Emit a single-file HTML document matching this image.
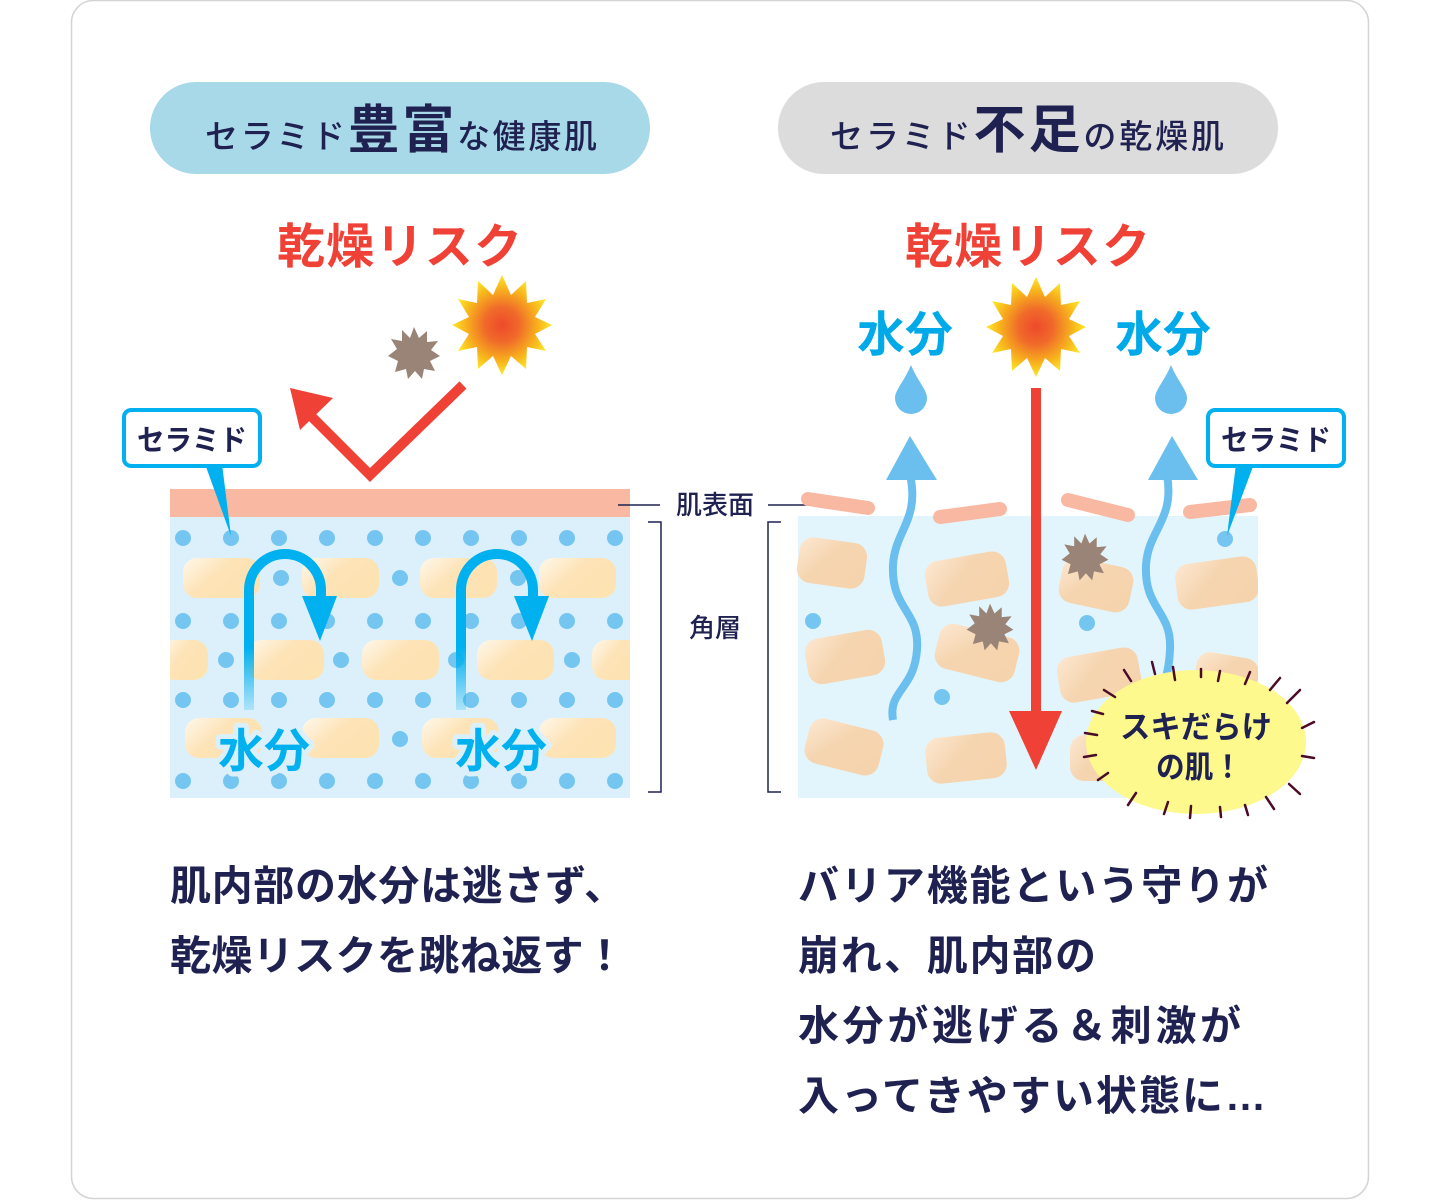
<!DOCTYPE html>
<html><head><meta charset="utf-8"><style>
body{margin:0;background:#fff;}
svg{display:block;font-family:"Liberation Sans","Noto Sans CJK JP",sans-serif;}
</style></head><body>
<svg width="1440" height="1200" viewBox="0 0 1440 1200" xmlns="http://www.w3.org/2000/svg">
<defs>
<linearGradient id="cg" x1="0" y1="0" x2="1" y2="0.6"><stop offset="0" stop-color="#fff8ec"/><stop offset="0.5" stop-color="#fde3b6"/><stop offset="1" stop-color="#fde3b2"/></linearGradient>
<linearGradient id="cg2" x1="0" y1="0" x2="1" y2="0.6"><stop offset="0" stop-color="#fde8d2"/><stop offset="0.5" stop-color="#f5d5b0"/><stop offset="1" stop-color="#f5d3ad"/></linearGradient>
<radialGradient id="sun"><stop offset="0" stop-color="#ee4a2b"/><stop offset="0.35" stop-color="#f06a2a"/><stop offset="0.75" stop-color="#f8b81c"/><stop offset="1" stop-color="#fde92b"/></radialGradient>
<linearGradient id="fade" x1="0" y1="1" x2="0" y2="0"><stop offset="0" stop-color="#00b0ef" stop-opacity="0.2"/><stop offset="0.4" stop-color="#00b0ef"/></linearGradient>
</defs>
<rect x="71.5" y="0.5" width="1297" height="1198" rx="22" fill="#fff" stroke="#d4d4d4" stroke-width="1.5"/>

<rect x="150" y="82" width="500" height="92" rx="46" fill="#a8d9e9"/>
<text x="205" y="148" textLength="392" lengthAdjust="spacing" fill="#1f2250" font-size="33" font-weight="500">セラミド<tspan font-size="52" font-weight="700">豊富</tspan>な健康肌</text>
<rect x="778" y="82" width="500" height="92" rx="46" fill="#dcdcdc"/>
<text x="830" y="148" textLength="394" lengthAdjust="spacing" fill="#1f2250" font-size="33" font-weight="500">セラミド<tspan font-size="52" font-weight="700">不足</tspan>の乾燥肌</text>

<text x="277" y="263" textLength="245" lengthAdjust="spacing" fill="#ef4136" font-size="48" font-weight="700">乾燥リスク</text>
<text x="905" y="263" textLength="245" lengthAdjust="spacing" fill="#ef4136" font-size="48" font-weight="700">乾燥リスク</text>

<polygon fill="url(#sun)" transform="translate(502,325)" points="0,-50 9,-30 24,-44 25,-22 44,-26 33,-8 50,0 33,9 44,26 25,22 24,44 9,31 0,50 -9,31 -24,44 -25,22 -44,26 -33,9 -50,0 -33,-8 -44,-26 -25,-22 -24,-44 -9,-30"/>
<polygon fill="#9a8377" transform="translate(414,353)" points="0,-26 5,-15 13,-22 13,-11 24,-12 17,-3 26,3 16,8 21,18 10,16 8,26 1,18 -6,26 -8,16 -19,19 -16,8 -26,3 -17,-4 -23,-14 -12,-12 -12,-23 -4,-15"/>
<polyline points="463,385 370,475 305,410" fill="none" stroke="#ef4136" stroke-width="10"/>
<polygon points="290,388 333,398 300,430" fill="#ef4136"/>

<rect x="170" y="489" width="460" height="28" fill="#f9b8a2"/>
<rect x="170" y="517" width="460" height="281" fill="#dbf0fb"/>
<g fill="url(#cg)">
<rect x="183" y="558" width="77" height="40" rx="14"/><rect x="302" y="558" width="77" height="40" rx="14"/><rect x="420" y="558" width="77" height="40" rx="14"/><rect x="539" y="558" width="77" height="40" rx="14"/>
<rect x="160" y="640" width="48" height="40" rx="14"/><rect x="247" y="640" width="77" height="40" rx="14"/><rect x="362" y="640" width="77" height="40" rx="14"/><rect x="477" y="640" width="77" height="40" rx="14"/><rect x="592" y="640" width="48" height="40" rx="14"/>
<rect x="185" y="718" width="77" height="40" rx="14"/><rect x="302" y="718" width="77" height="40" rx="14"/><rect x="422" y="718" width="77" height="40" rx="14"/><rect x="539" y="718" width="77" height="40" rx="14"/>
</g>
<rect x="160" y="489" width="10" height="320" fill="#fff"/><rect x="630" y="489" width="12" height="320" fill="#fff"/>
<g fill="#74c6f0">
<circle cx="183" cy="538" r="8"/><circle cx="231" cy="538" r="8"/><circle cx="279" cy="538" r="8"/><circle cx="327" cy="538" r="8"/><circle cx="375" cy="538" r="8"/><circle cx="423" cy="538" r="8"/><circle cx="471" cy="538" r="8"/><circle cx="519" cy="538" r="8"/><circle cx="567" cy="538" r="8"/><circle cx="615" cy="538" r="8"/>
<circle cx="281" cy="578" r="8"/><circle cx="400" cy="578" r="8"/><circle cx="518" cy="578" r="8"/>
<circle cx="183" cy="621" r="8"/><circle cx="231" cy="621" r="8"/><circle cx="279" cy="621" r="8"/><circle cx="327" cy="621" r="8"/><circle cx="375" cy="621" r="8"/><circle cx="423" cy="621" r="8"/><circle cx="471" cy="621" r="8"/><circle cx="519" cy="621" r="8"/><circle cx="567" cy="621" r="8"/><circle cx="615" cy="621" r="8"/>
<circle cx="226" cy="660" r="8"/><circle cx="341" cy="660" r="8"/><circle cx="456" cy="660" r="8"/><circle cx="572" cy="660" r="8"/>
<circle cx="183" cy="700" r="8"/><circle cx="231" cy="700" r="8"/><circle cx="279" cy="700" r="8"/><circle cx="327" cy="700" r="8"/><circle cx="375" cy="700" r="8"/><circle cx="423" cy="700" r="8"/><circle cx="471" cy="700" r="8"/><circle cx="519" cy="700" r="8"/><circle cx="567" cy="700" r="8"/><circle cx="615" cy="700" r="8"/>
<circle cx="400" cy="739" r="8"/>
<circle cx="183" cy="781" r="8"/><circle cx="231" cy="781" r="8"/><circle cx="279" cy="781" r="8"/><circle cx="327" cy="781" r="8"/><circle cx="375" cy="781" r="8"/><circle cx="423" cy="781" r="8"/><circle cx="471" cy="781" r="8"/><circle cx="519" cy="781" r="8"/><circle cx="567" cy="781" r="8"/><circle cx="615" cy="781" r="8"/>
</g>
<path d="M249,710 V590 A36,36 0 0 1 321,590 V605" fill="none" stroke="url(#fade)" stroke-width="10"/>
<polygon points="302,596 337,596 320,641" fill="#00b0ef"/>
<path d="M461,710 V590 A36,36 0 0 1 533,590 V605" fill="none" stroke="url(#fade)" stroke-width="10"/>
<polygon points="514,596 549,596 532,641" fill="#00b0ef"/>
<g font-size="46" font-weight="700" text-anchor="middle" fill="#00b0ef" stroke="#dbf0fb" stroke-width="10" paint-order="stroke" stroke-linejoin="round">
<text x="264" y="767">水分</text><text x="501" y="767">水分</text></g>

<polygon points="205,464 222,464 231,536" fill="#00b0ef"/>
<rect x="124" y="410" width="136" height="56" rx="7" fill="#fff" stroke="#00b0ef" stroke-width="4"/>
<text x="137" y="450" textLength="110" lengthAdjust="spacingAndGlyphs" font-size="29" font-weight="700" fill="#1f2250">セラミド</text>

<line x1="618" y1="505" x2="660" y2="505" stroke="#1f2250" stroke-width="1.5"/>
<line x1="768" y1="505" x2="810" y2="505" stroke="#1f2250" stroke-width="1.5"/>
<text x="715" y="514" text-anchor="middle" font-size="26" font-weight="500" fill="#1f2250">肌表面</text>
<text x="715" y="637" text-anchor="middle" font-size="26" font-weight="500" fill="#1f2250">角層</text>
<polyline points="648,522 661,522 661,792 648,792" fill="none" stroke="#1f2250" stroke-width="1.5"/>
<polyline points="781,522 768,522 768,792 781,792" fill="none" stroke="#1f2250" stroke-width="1.5"/>

<rect x="798" y="516" width="460" height="282" fill="#e3f5fc"/>
<g stroke="#f9b8a2" stroke-width="14" stroke-linecap="round">
<line x1="808" y1="499" x2="868" y2="508"/><line x1="940" y1="517" x2="1000" y2="509"/><line x1="1068" y1="500" x2="1128" y2="515"/><line x1="1190" y1="512" x2="1250" y2="505"/>
</g>
<g fill="url(#cg2)">
<rect x="798" y="540" width="68" height="46" rx="14" transform="rotate(8 832 563)"/>
<rect x="926" y="556" width="82" height="46" rx="14" transform="rotate(-10 967 579)"/>
<rect x="1060" y="562" width="72" height="46" rx="14" transform="rotate(12 1096 585)"/>
<rect x="1176" y="560" width="82" height="46" rx="14" transform="rotate(-8 1217 583)"/>
<rect x="806" y="634" width="78" height="46" rx="14" transform="rotate(-10 845 657)"/>
<rect x="936" y="630" width="82" height="46" rx="14" transform="rotate(14 977 653)"/>
<rect x="1058" y="652" width="82" height="46" rx="14" transform="rotate(-10 1099 675)"/>
<rect x="1195" y="655" width="63" height="40" rx="14" transform="rotate(10 1226 675)"/>
<rect x="806" y="724" width="76" height="46" rx="14" transform="rotate(14 844 747)"/>
<rect x="926" y="735" width="80" height="46" rx="14" transform="rotate(-6 966 758)"/>
<rect x="1070" y="735" width="60" height="46" rx="14"/>
</g>
<rect x="1258" y="520" width="30" height="290" fill="#fff"/>
<g fill="#74c6f0"><circle cx="813" cy="621" r="8"/><circle cx="942" cy="697" r="8"/><circle cx="1087" cy="623" r="8"/><circle cx="1225" cy="539" r="8"/></g>
<g fill="none" stroke="#6bbfee" stroke-width="8">
<path d="M910,475 C920,520 895,530 893,565 C891,610 920,610 917,650 C914,690 888,690 893,720"/>
<path d="M1167,475 C1175,520 1148,530 1146,565 C1144,610 1172,610 1170,650 C1168,685 1160,690 1148,700"/>
</g>
<polygon points="886,480 937,480 910,436" fill="#6bbfee"/>
<polygon points="1148,480 1198,480 1172,436" fill="#6bbfee"/>
<path d="M911,365 C905,380 895,390 895,398 A16,16 0 0 0 927,398 C927,390 917,380 911,365Z" fill="#6bbfee"/>
<path d="M1171,365 C1165,380 1155,390 1155,398 A16,16 0 0 0 1187,398 C1187,390 1177,380 1171,365Z" fill="#6bbfee"/>
<g font-size="48" font-weight="700" text-anchor="middle" fill="#00a9e8"><text x="905" y="351">水分</text><text x="1163" y="351">水分</text></g>
<polygon fill="url(#sun)" transform="translate(1036,327)" points="0,-50 9,-30 24,-44 25,-22 44,-26 33,-8 50,0 33,9 44,26 25,22 24,44 9,31 0,50 -9,31 -24,44 -25,22 -44,26 -33,9 -50,0 -33,-8 -44,-26 -25,-22 -24,-44 -9,-30"/>
<rect x="1031" y="388" width="10" height="330" fill="#ef4136"/>
<polygon points="1009,711 1062,711 1036,770" fill="#ef4136"/>
<g fill="#9a8377">
<polygon transform="translate(990,627) scale(0.9)" points="0,-26 5,-15 13,-22 13,-11 24,-12 17,-3 26,3 16,8 21,18 10,16 8,26 1,18 -6,26 -8,16 -19,19 -16,8 -26,3 -17,-4 -23,-14 -12,-12 -12,-23 -4,-15"/>
<polygon transform="translate(1085,557) scale(0.9)" points="0,-26 5,-15 13,-22 13,-11 24,-12 17,-3 26,3 16,8 21,18 10,16 8,26 1,18 -6,26 -8,16 -19,19 -16,8 -26,3 -17,-4 -23,-14 -12,-12 -12,-23 -4,-15"/>
</g>
<ellipse cx="1196" cy="742" rx="110" ry="72" fill="#fdf98c"/>
<g stroke="#4a0c28" stroke-width="2.5" stroke-linecap="round">
<line x1="1131" y1="681" x2="1124" y2="670"/><line x1="1155" y1="674" x2="1152" y2="662"/><line x1="1175" y1="680" x2="1173" y2="667"/><line x1="1201" y1="677" x2="1201" y2="669"/><line x1="1218" y1="681" x2="1220" y2="671"/><line x1="1245" y1="684" x2="1250" y2="672"/><line x1="1270" y1="690" x2="1280" y2="678"/><line x1="1287" y1="703" x2="1300" y2="690"/><line x1="1302" y1="728" x2="1314" y2="722"/><line x1="1302" y1="756" x2="1314" y2="758"/><line x1="1289" y1="784" x2="1300" y2="794"/><line x1="1266" y1="797" x2="1274" y2="809"/><line x1="1245" y1="805" x2="1248" y2="815"/><line x1="1220" y1="807" x2="1221" y2="817"/><line x1="1191" y1="806" x2="1190" y2="818"/><line x1="1168" y1="802" x2="1164" y2="814"/><line x1="1136" y1="793" x2="1128" y2="805"/><line x1="1108" y1="773" x2="1098" y2="780"/><line x1="1096" y1="755" x2="1084" y2="757"/><line x1="1097" y1="735" x2="1085" y2="733"/><line x1="1103" y1="714" x2="1092" y2="711"/><line x1="1115" y1="697" x2="1104" y2="690"/>
</g>
<g font-size="31" font-weight="700" fill="#1f2250"><text x="1120" y="738" textLength="152" lengthAdjust="spacingAndGlyphs">スキだらけ</text><text x="1156" y="778" textLength="86" lengthAdjust="spacingAndGlyphs">の肌！</text></g>
<polygon points="1236,464 1254,464 1227,536" fill="#00b0ef"/>
<rect x="1208" y="410" width="136" height="56" rx="7" fill="#fff" stroke="#00b0ef" stroke-width="4"/>
<text x="1221" y="450" textLength="110" lengthAdjust="spacingAndGlyphs" font-size="29" font-weight="700" fill="#1f2250">セラミド</text>

<g font-size="41" font-weight="700" fill="#1f2250">
<text x="170" y="900" textLength="455" lengthAdjust="spacing">肌内部の水分は逃さず、</text>
<text x="170" y="970" textLength="455" lengthAdjust="spacing">乾燥リスクを跳ね返す！</text>
<text x="798" y="900" textLength="470" lengthAdjust="spacing">バリア機能という守りが</text>
<text x="798" y="970" textLength="298" lengthAdjust="spacing">崩れ、肌内部の</text>
<text x="798" y="1040" textLength="443" lengthAdjust="spacing">水分が逃げる＆刺激が</text>
<text x="798" y="1110" textLength="468" lengthAdjust="spacing">入ってきやすい状態に…</text>
</g>
</svg>
</body></html>
